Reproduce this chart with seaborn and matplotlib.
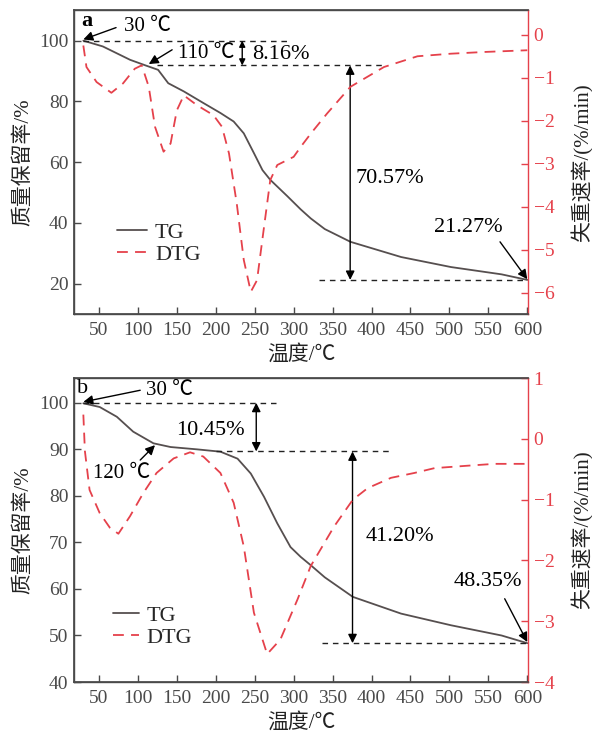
import numpy as np
import pandas as pd
import matplotlib
matplotlib.use("Agg")
import matplotlib.pyplot as plt
import seaborn as sns
from matplotlib.lines import Line2D

# ---------------- data ----------------
# panel a
a_tg_temp = [30, 55, 90, 110, 126, 139, 159, 184, 206, 223, 236, 249, 260, 270,
             292, 309, 322, 340, 373, 438, 502, 567, 600]
a_tg_val = [100, 98.1, 93.7, 91.84, 90.4, 86.0, 83.3, 79.5, 76.2, 73.4, 69.5, 63.0,
            57.4, 54.2, 48.8, 44.5, 41.5, 38.0, 33.8, 28.8, 25.5, 23.1, 21.27]
a_dtg_temp = [30, 34, 47, 66, 81, 96, 105, 114, 122, 133, 142, 150, 159, 176, 197,
              208, 217, 227, 236, 245, 253, 262, 270, 279, 300, 309, 322, 343, 373,
              416, 459, 502, 545, 600]
a_dtg_val = [-0.25, -0.75, -1.1, -1.35, -1.13, -0.79, -0.71, -1.21, -2.14, -2.72,
             -2.53, -1.76, -1.41, -1.64, -1.87, -2.14, -2.76, -3.93, -5.24, -5.98,
             -5.71, -4.47, -3.38, -3.03, -2.84, -2.61, -2.3, -1.83, -1.21, -0.75,
             -0.5, -0.44, -0.4, -0.36]

# panel b
b_tg_temp = [30, 51, 73, 94, 120, 142, 176, 206, 228, 245, 262, 279, 296, 309, 322,
             340, 376, 438, 502, 567, 600]
b_tg_val = [99.9, 99.1, 97.0, 93.8, 91.3, 90.5, 90.0, 89.5, 88.0, 84.8, 79.8, 74.1,
            69.0, 66.9, 65.1, 62.5, 58.3, 54.7, 52.2, 50.0, 48.35]
b_dtg_temp = [30, 32, 38, 51, 64, 75, 90, 107, 124, 146, 167, 184, 206, 223, 236, 249,
              266, 283, 305, 322, 352, 376, 395, 425, 455, 481, 524, 558, 600]
b_dtg_val = [0.4, -0.2, -0.84, -1.22, -1.46, -1.56, -1.27, -0.89, -0.56, -0.32, -0.22,
             -0.29, -0.56, -1.05, -1.77, -2.86, -3.54, -3.3, -2.64, -2.09, -1.44, -1.0,
             -0.81, -0.64, -0.56, -0.48, -0.44, -0.41, -0.41]

x_ticks = list(range(50, 601, 50))
a_left_ticks = [20, 40, 60, 80, 100]
a_right_ticks = [0, -1, -2, -3, -4, -5, -6]
b_left_ticks = [40, 50, 60, 70, 80, 90, 100]
b_right_ticks = [1, 0, -1, -2, -3, -4]

xlabel = "温度/℃"
ylabel_left = "质量保留率/%"
ylabel_right = "失重速率/(%/min)"
series_names = ["TG", "DTG"]

# ---------------- style ----------------
sns.set_theme(style="ticks")
FAM = ["Liberation Serif", "Noto Sans CJK SC"]
plt.rcParams["font.family"] = FAM
plt.rcParams["axes.unicode_minus"] = True

TG_C = "#564f4f"
RED = "#e5414b"
GREY = "#4a4a4a"
FS = 14      # tick labels
FL = 15      # axis labels
FA = 16      # annotations / legend
FC = 15      # temperature annotations
DSTYLE = (0, (6, 4))

fig = plt.figure(figsize=(5.92, 7.34), dpi=100)
ax_a = fig.add_axes([0.125, 0.572, 0.767, 0.414])
ax_b = fig.add_axes([0.125, 0.0708, 0.767, 0.414])


def setup(ax, tgT, tgV, dT, dV, ylim_l, lt, ylim_r, rt, leg_anchor, hl):
    df_tg = pd.DataFrame({"T": tgT, "v": tgV})
    df_d = pd.DataFrame({"T": dT, "v": dV})
    sns.lineplot(data=df_tg, x="T", y="v", ax=ax, color=TG_C, lw=1.3, legend=False)
    ax2 = ax.twinx()
    sns.lineplot(data=df_d, x="T", y="v", ax=ax2, color=RED, lw=1.3,
                 dashes=False, legend=False)
    ax2.lines[0].set_linestyle(DSTYLE)
    ax.set_xlim(18, 601)
    ax.set_ylim(*ylim_l)
    ax2.set_ylim(*ylim_r)
    ax.set_xticks(x_ticks)
    ax.set_yticks(lt)
    ax2.set_yticks(rt)
    ax.tick_params(axis="both", direction="in", length=5, width=1, colors=GREY,
                   labelsize=FS, pad=4)
    ax.tick_params(axis="x", pad=6)
    ax2.tick_params(axis="y", direction="in", length=5, width=1, colors=RED,
                    labelsize=FS, pad=4)
    for s in ["left", "bottom", "top"]:
        ax.spines[s].set_color(GREY)
        ax2.spines[s].set_color(GREY)
        ax.spines[s].set_linewidth(1)
    ax2.spines["right"].set_color(RED)
    ax2.spines["right"].set_linewidth(1)
    ax.spines["right"].set_visible(False)
    ax.set_xlabel(xlabel, fontsize=FL, color="#222222", labelpad=4)
    ax.set_ylabel(ylabel_left, fontsize=FL, color="#222222")
    ax2.set_ylabel(ylabel_right, fontsize=FL, color="#222222")
    ax.yaxis.set_label_coords(-0.09, 0.5)
    ax2.yaxis.set_label_coords(1.095, 0.5)
    handles = [Line2D([], [], color=TG_C, lw=1.3),
               Line2D([], [], color=RED, lw=1.3, linestyle=DSTYLE)]
    ax2.legend(handles, series_names, loc="center left", bbox_to_anchor=leg_anchor,
               frameon=False, fontsize=FA, handlelength=hl, handletextpad=0.35,
               labelspacing=0.05, borderaxespad=0, borderpad=0)
    return ax2


setup(ax_a, a_tg_temp, a_tg_val, a_dtg_temp, a_dtg_val, (10, 110), a_left_ticks,
      (-6.5, 0.57), a_right_ticks, (0.095, 0.232), 1.35)
setup(ax_b, b_tg_temp, b_tg_val, b_dtg_temp, b_dtg_val, (40, 105.3), b_left_ticks,
      (-4, 1), b_right_ticks, (0.086, 0.182), 1.15)

ARW = dict(arrowstyle="-|>", color="black", lw=1.0, mutation_scale=14,
           shrinkA=0, shrinkB=0)
DBL = dict(arrowstyle="<|-|>", color="black", lw=1.0, mutation_scale=13,
           shrinkA=0, shrinkB=0)
DASH = dict(color="#222222", lw=1.0, linestyle=(0, (4, 3.5)))


def txt(ax, x, y, s, size=FA, **kw):
    ax.text(x, y, s, fontsize=size, ha="center", va="center", color="black",
            family=FAM, **kw)


# ---- panel a annotations ----
ax = ax_a
txt(ax, 34, 106.6, "a", fontweight="bold")
ax.annotate("", xy=(30, 100.4), xytext=(72, 104.3), arrowprops=ARW)
txt(ax, 112, 104.8, "30 ℃", size=FC)
ax.plot([30, 296], [100, 100], **DASH)
ax.annotate("", xy=(114, 92.3), xytext=(144, 97.0), arrowprops=ARW)
txt(ax, 188, 95.9, "110 ℃", size=FC)
ax.plot([124, 416], [91.84, 91.84], **DASH)
ax.annotate("", xy=(234, 91.84), xytext=(234, 100),
            arrowprops=dict(DBL, mutation_scale=9))
txt(ax, 284, 95.6, "8.16%")
ax.annotate("", xy=(372.6, 21.27), xytext=(372.6, 91.84), arrowprops=DBL)
txt(ax, 423, 54.7, "70.57%")
ax.plot([333, 600], [21.27, 21.27], **DASH)
txt(ax, 524, 38.5, "21.27%")
ax.annotate("", xy=(600, 21.5), xytext=(565, 33.8), arrowprops=ARW)

# ---- panel b annotations ----
ax = ax_b
txt(ax, 28.7, 103.1, "b")
ax.annotate("", xy=(30, 100.2), xytext=(103, 102.7), arrowprops=ARW)
txt(ax, 141, 102.7, "30 ℃", size=FC)
ax.plot([30, 277], [100, 100], **DASH)
ax.plot([200, 427], [89.55, 89.55], **DASH)
ax.annotate("", xy=(252, 89.55), xytext=(252, 100), arrowprops=DBL)
txt(ax, 193, 94.1, "10.45%")
txt(ax, 79, 84.8, "120 ℃", size=FC)
ax.annotate("", xy=(122, 90.9), xytext=(103, 87.7), arrowprops=ARW)
ax.annotate("", xy=(375.6, 48.35), xytext=(375.6, 89.55), arrowprops=DBL)
txt(ax, 436, 71.2, "41.20%")
ax.plot([337, 600], [48.35, 48.35], **DASH)
txt(ax, 550, 61.5, "48.35%")
ax.annotate("", xy=(600, 48.6), xytext=(571, 57.9), arrowprops=ARW)

fig.savefig("out.png", dpi=100)
